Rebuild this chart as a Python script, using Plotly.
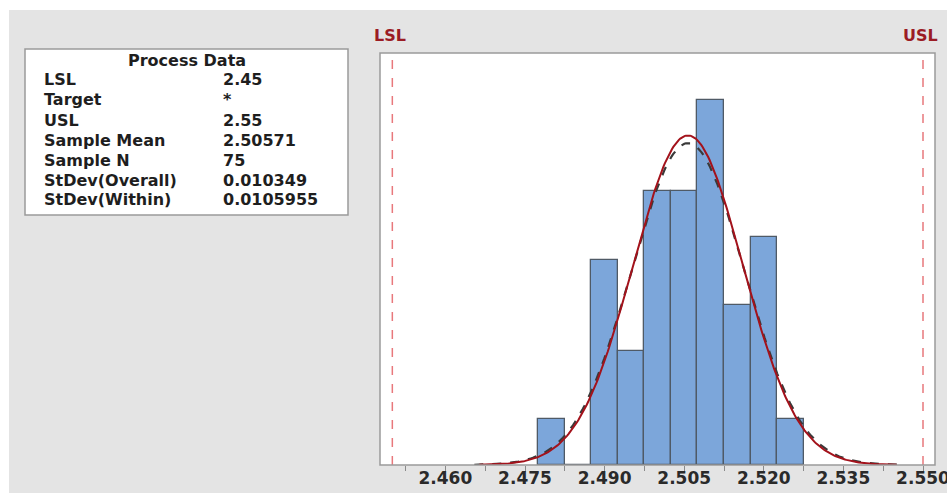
import numpy as np
import plotly.graph_objects as go

# ---- data ----
bin_centers = [2.480, 2.485, 2.490, 2.495, 2.500, 2.505, 2.510, 2.515, 2.520, 2.525]
bin_counts = [2, 0, 9, 5, 12, 12, 16, 7, 10, 2]
bin_width = 0.005

lsl = 2.45
usl = 2.55
sample_mean = 2.50571
sample_n = 75
stdev_overall = 0.010349
stdev_within = 0.0105955

tick_vals = [2.460, 2.475, 2.490, 2.505, 2.520, 2.535, 2.550]
tick_text = ["2.460", "2.475", "2.490", "2.505", "2.520", "2.535", "2.550"]

pd_labels = ["LSL", "Target", "USL", "Sample Mean", "Sample N", "StDev(Overall)", "StDev(Within)"]
pd_values = ["2.45", "*", "2.55", "2.50571", "75", "0.010349", "0.0105955"]

# ---- figure geometry (pixels) ----
W, H = 947, 493
L, R, T, B = 380, 935, 53, 465


def px(x):
    return (x - L) / (R - L)


def py(y):
    return (B - y) / (B - T)


fig = go.Figure()

fig.add_trace(go.Bar(
    x=bin_centers, y=bin_counts, width=bin_width,
    marker=dict(color="#7CA6DA", line=dict(color="#4F5A66", width=1.3)),
    showlegend=False, hoverinfo="skip"))


def normal_curve(sd):
    xs = np.linspace(sample_mean - 3.8 * sd, sample_mean + 3.8 * sd, 300)
    ys = sample_n * bin_width / (sd * np.sqrt(2 * np.pi)) * np.exp(-0.5 * ((xs - sample_mean) / sd) ** 2)
    return xs, ys


xw, yw = normal_curve(stdev_within)
fig.add_trace(go.Scatter(x=xw, y=yw, mode="lines",
                         line=dict(color="#3A3A3A", width=2.2, dash="dash"),
                         showlegend=False, hoverinfo="skip"))
xo, yo = normal_curve(stdev_overall)
fig.add_trace(go.Scatter(x=xo, y=yo, mode="lines",
                         line=dict(color="#A3121B", width=2),
                         showlegend=False, hoverinfo="skip"))

# spec limit lines
for v in (lsl, usl):
    fig.add_shape(type="line", x0=v, x1=v, xref="x", y0=0, y1=1, yref="paper",
                  line=dict(color="#E8787C", width=1.5, dash="dash"))

shapes = [
    # white strip on top / left of gray panel
    dict(type="rect", xref="paper", yref="paper", x0=px(0), x1=px(W), y0=py(10), y1=py(0),
         fillcolor="white", line=dict(width=0), layer="below"),
    dict(type="rect", xref="paper", yref="paper", x0=px(0), x1=px(9), y0=py(H), y1=py(0),
         fillcolor="white", line=dict(width=0), layer="below"),
    # plot frame
    dict(type="rect", xref="paper", yref="paper", x0=0, x1=1, y0=0, y1=1,
         line=dict(color="#9A9A9A", width=1.5), fillcolor="rgba(0,0,0,0)"),
    # process data box
    dict(type="rect", xref="paper", yref="paper", x0=px(25), x1=px(348), y0=py(215), y1=py(49),
         fillcolor="white", line=dict(color="#9A9A9A", width=1.5)),
]
for s in shapes:
    fig.add_shape(**s)

font_family = "DejaVu Sans, sans-serif"
txt_color = "#1E1E1E"
ann = []
ann.append(dict(text="<b>Process Data</b>", x=px(187), y=py(60), xref="paper", yref="paper",
                showarrow=False, xanchor="center", yanchor="middle",
                font=dict(size=16, color=txt_color, family=font_family)))
row_y = [80, 100, 120, 140, 160, 180, 200]
for lab, val, yy in zip(pd_labels, pd_values, row_y):
    ann.append(dict(text="<b>" + lab + "</b>", x=px(42), y=py(yy), xref="paper", yref="paper",
                    showarrow=False, xanchor="left", yanchor="middle",
                    font=dict(size=16, color=txt_color, family=font_family)))
    ann.append(dict(text="<b>" + val + "</b>", x=px(221), y=py(yy), xref="paper", yref="paper",
                    showarrow=False, xanchor="left", yanchor="middle",
                    font=dict(size=16, color=txt_color, family=font_family)))
ann.append(dict(text="<b>LSL</b>", x=px(390), xref="paper", y=py(35), yref="paper", showarrow=False,
                xanchor="center", yanchor="middle",
                font=dict(size=16, color="#9B1C24", family=font_family)))
ann.append(dict(text="<b>USL</b>", x=px(920), xref="paper", y=py(35), yref="paper", showarrow=False,
                xanchor="center", yanchor="middle",
                font=dict(size=16, color="#9B1C24", family=font_family)))

x0v = 2.460 - (445.4 - L) / 5306.7
x1v = 2.550 + (R - 923) / 5306.7

fig.update_layout(
    template="none",
    width=W, height=H,
    margin=dict(l=L, r=W - R, t=T, b=H - B, pad=0),
    paper_bgcolor="#E4E4E4",
    plot_bgcolor="white",
    bargap=0,
    annotations=ann,
    xaxis=dict(range=[x0v, x1v], tickvals=tick_vals, ticktext=tick_text,
               automargin=False, ticklabeloverflow="allow", ticklabelstandoff=-8,
               ticks="outside", ticklen=6, tickcolor="#8A8A8A", tickwidth=1.3,
               minor=dict(tickvals=[2.4525 + 0.015 * i for i in range(7)], ticks="outside",
                          ticklen=5, tickcolor="#8A8A8A", tickwidth=1.3),
               showgrid=False, zeroline=False, showline=False,
               tickfont=dict(size=17, color="#2A2A2A", family=font_family, weight="bold")),
    yaxis=dict(range=[0, (B - T) / 22.8], visible=False, showgrid=False, automargin=False),
)

fig.write_html("out.html", config={"displayModeBar": False},
               post_script="document.body.style.margin='0';")
